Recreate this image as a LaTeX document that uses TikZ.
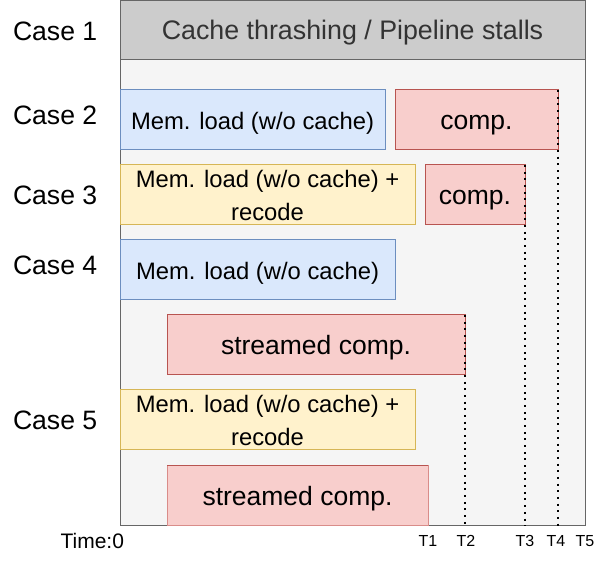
\documentclass[tikz,border=0pt]{standalone}
\usepackage{fontspec}
\setmainfont{Liberation Sans}
\begin{document}
\begin{tikzpicture}[x=1pt,y=-1pt,
  every node/.style={inner sep=0pt,outer sep=0pt},
  blk/.style={draw, line width=1pt, anchor=north west, align=center, font=\fontsize{26.5}{33}\selectfont},
  one/.style={text height=20pt, text depth=0pt},
  memf/.style={font=\fontsize{23.8}{33}\selectfont},
  blue/.style={blk, memf, one, fill=bluef, draw=blued},
  yel/.style={blk, memf, fill=yelf, draw=yeld},
  red/.style={blk, one, fill=redf, draw=redd},
  caselbl/.style={anchor=west, font=\fontsize{26.6}{30}\selectfont},
  tlbl/.style={font=\fontsize{16}{18}\selectfont},
  dots/.style={line width=2pt, dash pattern=on 2pt off 4.67pt}
]
\definecolor{bluef}{HTML}{DAE8FC}\definecolor{blued}{HTML}{6C8EBF}
\definecolor{yelf}{HTML}{FFF2CC}\definecolor{yeld}{HTML}{D6B656}
\definecolor{redf}{HTML}{F8CECC}\definecolor{redd}{HTML}{B85450}
\definecolor{redl}{HTML}{D98C89}
\definecolor{bgf}{HTML}{F5F5F5}\definecolor{frm}{HTML}{666666}
\definecolor{hdrf}{HTML}{CCCCCC}\definecolor{hdrt}{HTML}{333333}
\useasboundingbox (0,0) rectangle (606,561);
% frame
\node[draw=frm, fill=bgf, line width=1pt, anchor=north west, minimum width=465, minimum height=525] (frame) at (120,1) {};
\node[draw=frm, fill=hdrf, line width=1pt, anchor=north west, minimum width=465, minimum height=59,
  text=hdrt, text height=19pt, text depth=0pt, font=\fontsize{26.8}{30}\selectfont] (hdr) at (120,1) {Cache thrashing / Pipeline stalls};
% case labels
\node[caselbl] (l1) at (13,31) {Case 1};
\node[caselbl] (l2) at (13,115) {Case 2};
\node[caselbl] (l3) at (13,195) {Case 3};
\node[caselbl] (l4) at (13,265) {Case 4};
\node[caselbl] (l5) at (13,420) {Case 5};
% case 2
\node[blue, minimum width=265, minimum height=60] (m2) at (120,90) {Mem. load (w/o cache)};
\node[red, minimum width=163, minimum height=60] (c2) at (395,90) {comp.};
% case 3
\node[yel, minimum width=295, minimum height=60] (m3) at (120,165) {Mem. load (w/o cache) +\\recode};
\node[red, minimum width=100, minimum height=60] (c3) at (425,165) {comp.};
% case 4
\node[blue, minimum width=275, minimum height=60] (m4) at (120,240) {Mem. load (w/o cache)};
\node[red, minimum width=298, minimum height=60] (c4) at (167,315) {streamed comp.};
% case 5
\node[yel, minimum width=295, minimum height=60] (m5) at (120,390) {Mem. load (w/o cache) +\\recode};
\node[red, draw=redl, minimum width=261, minimum height=60] (c5) at (167,466) {streamed comp.};
\draw[redd, line width=1pt] (c5.north west) -- (c5.north east);
% dotted time markers
\draw[dots] (c2.north east) -- (c2.north east |- frame.south);
\draw[dots] (c3.north east) -- (c3.north east |- frame.south);
\draw[dots] (c4.north east) -- (c4.north east |- frame.south);
% time labels
\node[anchor=east, font=\fontsize{21}{22}\selectfont] (t0) at (124,541) {Time:0};
\node[tlbl] (t1) at (428,541) {T1};
\node[tlbl] (t2) at (466,541) {T2};
\node[tlbl] (t3) at (525,541) {T3};
\node[tlbl] (t4) at (556,541) {T4};
\node[tlbl] (t5) at (585,541) {T5};
\end{tikzpicture}
\end{document}
